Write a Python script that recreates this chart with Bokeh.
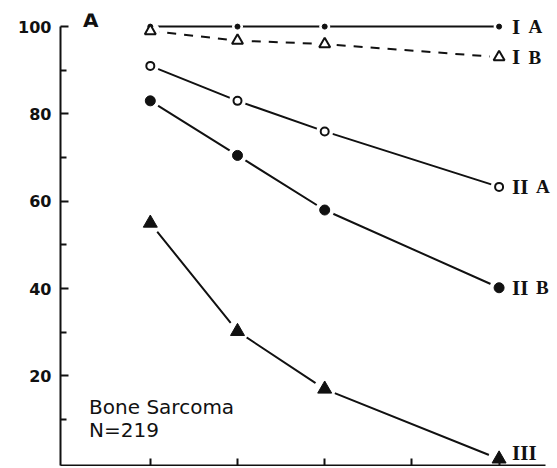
from bokeh.plotting import figure
from bokeh.models import (Range1d, FixedTicker, ColumnDataSource, LabelSet, Label,
                          CustomJSTickFormatter)
from bokeh.embed import file_html
from bokeh.resources import INLINE

# ---- data ----
x_years = [1, 2, 3, 5]
stage_IA = [100, 100, 100, 100]
stage_IB = [99, 96.8, 96, 93]
stage_IIA = [91, 83, 76, 63.3]
stage_IIB = [83, 70.5, 58, 40.2]
stage_III = [55, 30.2, 17, 1]

numerals = ["I", "I", "II", "II", "III"]
letters = ["A", "B", "A", "B", ""]

y_ticks = [20, 40, 60, 80, 100]
y_minor = [10, 30, 50, 70, 90]
x_ticks = [1, 2, 3, 4, 5]

INK = "#111111"

p = figure(width=555, height=466, output_backend="svg", toolbar_location=None,
           x_range=Range1d(-0.03, 5.624), y_range=Range1d(-0.5, 103),
           min_border_left=60, min_border_right=2, min_border_top=13,
           min_border_bottom=1)
p.outline_line_color = None
p.grid.visible = False
p.background_fill_color = "white"
p.border_fill_color = "white"

# y axis
ya = p.yaxis[0]
ya.ticker = FixedTicker(ticks=y_ticks, minor_ticks=y_minor)
ya.bounds = (-0.5, 100)
ya.axis_line_width = 2
ya.axis_line_color = INK
ya.major_tick_in = 8
ya.major_tick_out = 0
ya.minor_tick_in = 6
ya.minor_tick_out = 0
ya.major_tick_line_width = 2
ya.minor_tick_line_width = 2
ya.major_tick_line_color = INK
ya.minor_tick_line_color = INK
ya.major_label_text_font = "DejaVu Sans"
ya.major_label_text_font_style = "bold"
ya.major_label_text_font_size = "16px"
ya.major_label_text_color = INK
ya.major_label_standoff = 9

# x axis (ticks only, no labels)
xa = p.xaxis[0]
xa.ticker = FixedTicker(ticks=x_ticks, minor_ticks=[])
xa.formatter = CustomJSTickFormatter(code="return '';")
xa.bounds = (-0.03, 5.53)
xa.axis_line_width = 2
xa.axis_line_color = INK
xa.major_tick_in = 7
xa.major_tick_out = 0
xa.major_tick_line_width = 2
xa.major_tick_line_color = INK
xa.major_label_standoff = 0

series = [
    (stage_IA, "solid", "dot"),
    (stage_IB, "9 8", "open_tri"),
    (stage_IIA, "solid", "open_circ"),
    (stage_IIB, "solid", "fill_circ"),
    (stage_III, "solid", "fill_tri"),
]

# lines
for ys, dash, _ in series:
    p.line(x_years, ys, line_color=INK, line_width=2, line_dash=dash)

# white halos so the lines stop short of the markers
halo = {"dot": 11, "open_tri": 19, "open_circ": 17, "fill_circ": 19, "fill_tri": 22}
for ys, _, kind in series:
    p.scatter(x_years, ys, marker="circle", size=halo[kind], fill_color="white",
              line_color=None)

# markers
for ys, _, kind in series:
    if kind == "dot":
        p.scatter(x_years, ys, marker="circle", size=5, fill_color=INK, line_color=INK)
    elif kind == "open_tri":
        p.scatter(x_years, ys, marker="triangle", size=11, fill_color="white",
                  line_color=INK, line_width=2)
    elif kind == "open_circ":
        p.scatter(x_years, ys, marker="circle", size=8, fill_color="white",
                  line_color=INK, line_width=2)
    elif kind == "fill_circ":
        p.scatter(x_years, ys, marker="circle", size=10, fill_color=INK, line_color=INK)
    else:
        p.scatter(x_years, ys, marker="triangle", size=14, fill_color=INK, line_color=INK)

# series labels at the right end
last_y = [s[0][-1] for s in series]
src_num = ColumnDataSource(dict(
    x=[x_years[-1]] * len(series), y=last_y, txt=numerals,
    yo=[6 if v < 3 else 0 for v in last_y]))
p.add_layout(LabelSet(x="x", y="y", text="txt", source=src_num, x_offset=13,
                      y_offset="yo", text_baseline="middle",
                      text_font="Liberation Serif", text_font_style="bold",
                      text_font_size="21px", text_color=INK))
keep = [i for i, l in enumerate(letters) if l]
src_let = ColumnDataSource(dict(
    x=[x_years[-1]] * len(keep), y=[last_y[i] for i in keep],
    txt=[letters[i] for i in keep],
    xo=[13 + 7.5 * len(numerals[i]) + 9 for i in keep]))
p.add_layout(LabelSet(x="x", y="y", text="txt", source=src_let, x_offset="xo",
                      text_baseline="middle", text_font="DejaVu Sans",
                      text_font_style="bold", text_font_size="19px",
                      text_color=INK))

# panel letter and caption
p.add_layout(Label(x=0, y=100, text="A", x_offset=20, y_offset=19,
                   text_baseline="top", text_font="DejaVu Sans",
                   text_font_style="bold", text_font_size="20px", text_color=INK))
p.add_layout(Label(x=0, y=0, text="Bone Sarcoma", x_offset=26, y_offset=56,
                   text_baseline="alphabetic", text_font="DejaVu Sans",
                   text_font_size="20px", text_color=INK))
p.add_layout(Label(x=0, y=0, text="N=219", x_offset=26, y_offset=33,
                   text_baseline="alphabetic", text_font="DejaVu Sans",
                   text_font_size="20px", text_color=INK))

open("out.html", "w").write(file_html(p, INLINE))
